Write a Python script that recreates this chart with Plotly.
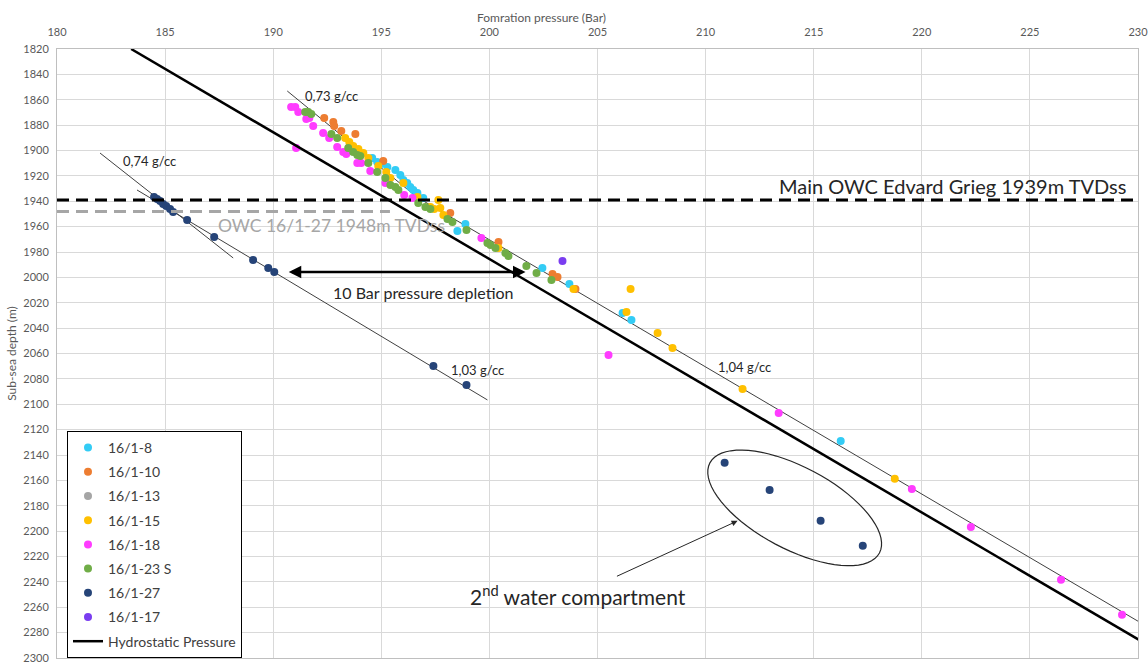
import math
import plotly.graph_objects as go

# ---------------- data ----------------
p_16_1_8 = [194.58, 194.81, 195.0, 195.28, 195.65, 195.88, 196.02, 196.20, 196.34, 196.48, 196.67, 196.94,
            198.89, 198.52, 202.45, 203.70, 206.16, 206.57, 216.25]
d_16_1_8 = [1905.9, 1909.0, 1910.6, 1913.0, 1915.3, 1919.3, 1923.2, 1925.6, 1928.7, 1931.1, 1933.5, 1937.4,
            1957.9, 1963.4, 1992.6, 2005.2, 2028.0, 2033.5, 2128.9]

p_16_1_10 = [192.36, 192.78, 192.82, 193.15, 193.80, 195.09, 198.19, 200.42, 202.92, 203.15, 203.98]
d_16_1_10 = [1874.4, 1877.5, 1880.7, 1884.6, 1887.0, 1908.3, 1949.2, 1972.1, 1997.3, 1999.7, 2009.1]

p_16_1_13 = []
d_16_1_13 = []

p_16_1_15 = [193.33, 193.52, 193.70, 193.94, 194.17, 194.40, 194.86, 195.23, 195.42, 196.02, 196.67, 197.64,
             197.27, 197.45, 197.73, 197.87, 200.42, 203.89, 206.53, 206.34, 207.78, 208.47, 211.71, 218.75]
d_16_1_15 = [1890.1, 1893.3, 1896.4, 1898.8, 1902.0, 1905.9, 1912.2, 1916.9, 1921.7, 1925.6, 1936.6, 1939.0,
             1944.5, 1946.1, 1945.3, 1950.8, 1976.8, 2009.1, 2009.1, 2027.2, 2043.8, 2055.6, 2087.9, 2158.8]

p_16_1_18 = [190.83, 191.02, 191.16, 191.53, 191.67, 191.85, 192.31, 192.59, 191.06, 192.96, 193.24, 193.38,
             193.89, 194.07, 194.49, 195.19, 196.06, 196.44, 199.63, 205.51, 213.38, 219.54, 222.27, 226.44, 229.26]
d_16_1_18 = [1865.7, 1865.7, 1869.6, 1875.2, 1874.4, 1880.7, 1886.2, 1890.1, 1898.0, 1897.2, 1901.2, 1902.7,
             1909.8, 1909.8, 1916.1, 1925.6, 1935.0, 1937.4, 1968.9, 2061.1, 2106.8, 2166.7, 2196.7, 2238.4, 2266.0]

p_16_1_23S = [191.48, 191.62, 191.76, 192.69, 192.96, 193.47, 193.70, 193.89, 194.03, 194.40, 194.81, 195.19,
              195.42, 195.65, 195.79, 196.71, 197.04, 197.27, 198.06, 198.29, 198.94, 199.91, 200.05, 200.28,
              200.74, 200.88, 201.71, 202.18, 202.87]
d_16_1_23S = [1869.6, 1869.6, 1871.2, 1887.0, 1890.1, 1898.0, 1901.2, 1903.5, 1904.3, 1909.8, 1916.9, 1921.7,
              1927.2, 1928.7, 1931.1, 1941.4, 1944.5, 1946.1, 1954.0, 1956.3, 1962.6, 1972.9, 1974.4, 1976.8,
              1980.8, 1983.1, 1991.0, 1996.5, 2002.0]

p_16_1_27 = [184.49, 184.63, 184.77, 184.91, 185.05, 185.23, 185.37, 186.02, 187.27, 189.07, 189.77, 190.05,
             197.41, 198.94, 210.88, 212.96, 215.32, 217.27]
d_16_1_27 = [1936.6, 1938.2, 1939.8, 1942.1, 1943.7, 1946.1, 1948.4, 1954.7, 1968.1, 1986.3, 1992.6, 1995.7,
             2069.8, 2084.8, 2146.2, 2167.5, 2191.9, 2211.6]

p_16_1_17 = [203.38]
d_16_1_17 = [1987.1]

hydro_p = [183.43, 230.05]
hydro_d = [1820.0, 2285.7]

# gradient lines (pressure, depth) end points
grad_073_p = [190.65, 196.81]
grad_073_d = [1853.1, 1939.0]
grad_104_p = [196.71, 230.05]
grad_104_d = [1937.4, 2271.5]
grad_074_p = [181.99, 188.15]
grad_074_d = [1902.0, 1984.7]
grad_103_p = [183.70, 199.91]
grad_103_d = [1931.1, 2096.6]

owc_main = 1939
owc_27 = 1948
owc_27_end_p = 195.4

depletion_p = [190.65, 201.67]
depletion_d = 1995.7

# ---------------- figure ----------------
W, H = 1148, 662
ML, MR, MT, MB = 57, 10, 49, 4
XR = [180, 230]
YR = [2300, 1820]
FONT = "Lato"

colors = {
    "16/1-8": "#33ccf5",
    "16/1-10": "#ed7d31",
    "16/1-13": "#a5a5a5",
    "16/1-15": "#ffc000",
    "16/1-18": "#ff3cff",
    "16/1-23 S": "#70ad47",
    "16/1-27": "#264478",
    "16/1-17": "#7a3df0",
}
series = [
    ("16/1-8", p_16_1_8, d_16_1_8),
    ("16/1-10", p_16_1_10, d_16_1_10),
    ("16/1-13", p_16_1_13, d_16_1_13),
    ("16/1-15", p_16_1_15, d_16_1_15),
    ("16/1-18", p_16_1_18, d_16_1_18),
    ("16/1-23 S", p_16_1_23S, d_16_1_23S),
    ("16/1-27", p_16_1_27, d_16_1_27),
    ("16/1-17", p_16_1_17, d_16_1_17),
]

fig = go.Figure()

for gp, gd in [(grad_073_p, grad_073_d), (grad_104_p, grad_104_d),
               (grad_074_p, grad_074_d), (grad_103_p, grad_103_d)]:
    fig.add_trace(go.Scatter(x=gp, y=gd, mode="lines", showlegend=False, hoverinfo="skip",
                             line=dict(color="#404040", width=1)))

for i, (name, px, dy) in enumerate(series):
    # a series with no visible points still gets its legend entry
    xv = px if px else [None]
    yv = dy if dy else [None]
    fig.add_trace(go.Scatter(x=xv, y=yv, mode="markers", name=name, legendgroup=f"g{i}",
                             marker=dict(color=colors[name], size=8, line=dict(width=0))))

fig.add_trace(go.Scatter(x=hydro_p, y=hydro_d, mode="lines", name="Hydrostatic Pressure",
                         legendgroup="g9", line=dict(color="black", width=2.5)))

# ellipse around the 2nd compartment points (geometry in screen pixels)
plot_w = W - ML - MR
plot_h = H - MT - MB
xs = plot_w / (XR[1] - XR[0])
ys = plot_h / (YR[0] - YR[1])
ell_c = (214.12, 2181.7)
ell_a, ell_b, ell_t = 96, 41, math.radians(28)
pts = []
for k in range(73):
    t = 2 * math.pi * k / 72
    ex = ell_a * math.cos(t) * math.cos(ell_t) - ell_b * math.sin(t) * math.sin(ell_t)
    ey = ell_a * math.cos(t) * math.sin(ell_t) + ell_b * math.sin(t) * math.cos(ell_t)
    pts.append(f"{ell_c[0] + ex / xs:.4f},{ell_c[1] + ey / ys:.4f}")
path = "M " + " L ".join(pts) + " Z"

shapes = [
    dict(type="line", xref="paper", yref="y", x0=0, x1=1, y0=owc_main, y1=owc_main,
         line=dict(color="black", width=3, dash="12px,7px"), layer="above"),
    dict(type="line", xref="paper", yref="y", x0=0, x1=(owc_27_end_p - XR[0]) / (XR[1] - XR[0]),
         y0=owc_27, y1=owc_27, line=dict(color="#a6a6a6", width=3, dash="12px,7px"), layer="above"),
    dict(type="path", xref="x", yref="y", path=path, line=dict(color="#262626", width=1.2)),
]

txt = "#262626"
annotations = [
    dict(text="Fomration pressure (Bar)", xref="paper", yref="paper", x=(541 - ML) / plot_w,
         y=1 + (MT - 17) / plot_h, yanchor="middle", showarrow=False,
         font=dict(size=12, color="#595959")),
    dict(text="0,73 g/cc", x=192.7, y=1857, showarrow=False, font=dict(size=13, color=txt)),
    dict(text="0,74 g/cc", x=184.3, y=1908, showarrow=False, font=dict(size=13, color=txt)),
    dict(text="1,03 g/cc", x=199.45, y=2073, showarrow=False, font=dict(size=13, color=txt)),
    dict(text="1,04 g/cc", x=211.8, y=2071, showarrow=False, font=dict(size=13, color=txt)),
    dict(text="Main OWC Edvard Grieg 1939m TVDss", x=221.4, y=1928, showarrow=False,
         font=dict(size=20, color=txt)),
    dict(text="OWC 16/1-27 1948m TVDss", x=192.7, y=1959, showarrow=False,
         font=dict(size=17.5, color="#a6a6a6")),
    dict(text="10 Bar pressure depletion", x=196.95, y=2012.2, showarrow=False,
         font=dict(size=16, color=txt)),
    dict(text="2<sup>nd</sup> water compartment", x=204.1, y=2250, showarrow=False,
         font=dict(size=21, color=txt)),
    # double arrow (pressure depletion)
    dict(x=depletion_p[1], y=depletion_d, ax=depletion_p[0], ay=depletion_d, axref="x", ayref="y",
         text="", showarrow=True, arrowhead=2, startarrowhead=2, arrowside="end+start",
         arrowsize=1, startarrowsize=1, arrowwidth=2.5, arrowcolor="black"),
    # arrow to compartment
    dict(x=211.48, y=2191.9, ax=205.83, ay=2236.1, axref="x", ayref="y", text="", showarrow=True,
         arrowhead=2, arrowsize=1.2, arrowwidth=1, arrowcolor="#262626"),
]

fig.update_layout(
    width=W, height=H,
    margin=dict(l=ML, r=MR, t=MT, b=MB, autoexpand=False),
    paper_bgcolor="white", plot_bgcolor="white",
    font=dict(family=FONT, color="#595959"),
    shapes=shapes, annotations=annotations,
    showlegend=True,
    legend=dict(x=(67 - ML) / plot_w, y=(H - MB - 431) / plot_h, xanchor="left", yanchor="top",
                bgcolor="white", bordercolor="black", borderwidth=1,
                font=dict(family=FONT, size=14, color="#404040"),
                tracegroupgap=3, itemwidth=30),
    xaxis=dict(range=XR, side="top", dtick=5, tick0=180, showgrid=True, gridcolor="#d9d9d9",
               gridwidth=1, zeroline=False, showline=True, linecolor="#bfbfbf", mirror=True,
               ticks="", tickfont=dict(size=11, color="#595959"), automargin=False,
               ticklabelstandoff=8, ticklabeloverflow="allow"),
    yaxis=dict(range=YR, dtick=20, tick0=1820, showgrid=True, gridcolor="#d9d9d9", gridwidth=1,
               zeroline=False, showline=True, linecolor="#bfbfbf", mirror=True, ticks="",
               tickfont=dict(size=11, color="#595959"), automargin=False,
               ticklabelstandoff=5, ticklabeloverflow="allow",
               title=dict(text="Sub-sea depth (m)", font=dict(size=12, color="#595959"), standoff=4)),
)

fig.write_html("out.html")
